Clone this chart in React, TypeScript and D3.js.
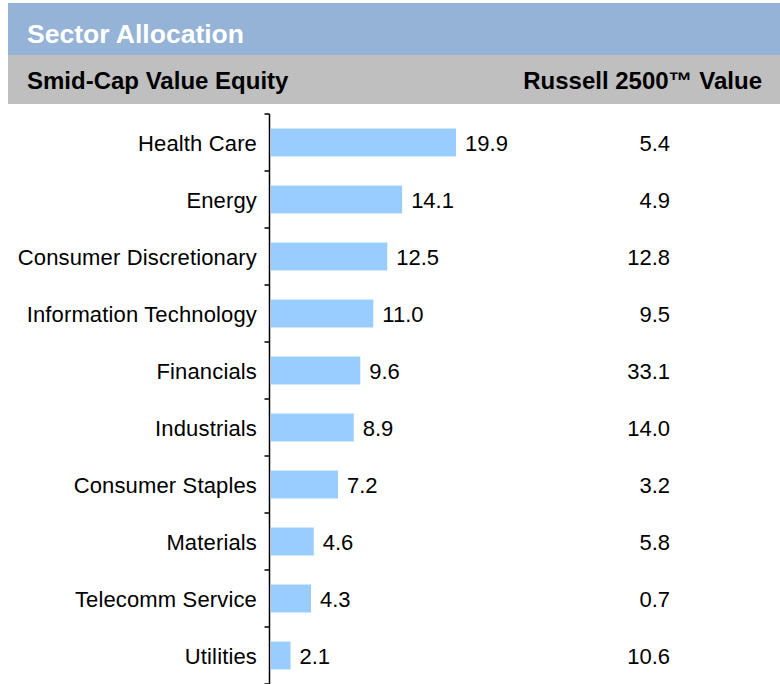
import React from "react";
import * as d3 from "d3";

const categories = [
  "Health Care",
  "Energy",
  "Consumer Discretionary",
  "Information Technology",
  "Financials",
  "Industrials",
  "Consumer Staples",
  "Materials",
  "Telecomm Service",
  "Utilities",
];
const portfolioValues = [19.9, 14.1, 12.5, 11.0, 9.6, 8.9, 7.2, 4.6, 4.3, 2.1];
const benchmarkValues = [5.4, 4.9, 12.8, 9.5, 33.1, 14.0, 3.2, 5.8, 0.7, 10.6];
const title = "Sector Allocation";
const leftHeader = "Smid-Cap Value Equity";
const rightHeader = "Russell 2500\u2122 Value";

const W = 780;
const H = 684;
const FONT = "'Liberation Sans', Arial, Helvetica, sans-serif";

export default function App() {
  const y = d3.scaleBand<string>().domain(categories).range([114, 684]).paddingInner(0).paddingOuter(0);
  const x = d3.scaleLinear().domain([0, 20]).range([271, 457]);
  const bw = y.bandwidth();
  const barH = bw * 0.49;
  const axisX = 269.5;
  const boundaries = categories.map((c) => y(c)!).concat([y.range()[1]]);

  return (
    <svg
      width={W}
      height={H}
      style={{ position: "absolute", left: 0, top: 0, display: "block", background: "#fff" }}
      fontFamily={FONT}
    >
      <rect x={8} y={3} width={W - 8} height={52} fill="#95B3D7" />
      <text x={27} y={43} fill="#fff" fontSize={26.5} fontWeight="bold">
        {title}
      </text>
      <rect x={8} y={55} width={W - 8} height={49} fill="#BFBFBF" />
      <text x={27} y={89} fill="#000" fontSize={24} fontWeight="bold">
        {leftHeader}
      </text>
      <text x={762} y={89} fill="#000" fontSize={24} fontWeight="bold" textAnchor="end">
        {rightHeader}
      </text>

      {categories.map((c, i) => {
        const cy = y(c)! + bw / 2;
        return (
          <g key={c}>
            <rect x={x(0)} y={cy - barH / 2} width={x(portfolioValues[i]) - x(0)} height={barH} fill="#99CCFF" />
            <text x={257} y={cy + 8} textAnchor="end" fontSize={22} fill="#000" letterSpacing={0.15}>
              {c}
            </text>
            <text x={x(portfolioValues[i]) + 9} y={cy + 8} fontSize={22} fill="#000">
              {portfolioValues[i].toFixed(1)}
            </text>
            <text x={670} y={cy + 8} textAnchor="end" fontSize={22} fill="#000">
              {benchmarkValues[i].toFixed(1)}
            </text>
          </g>
        );
      })}

      <line x1={axisX} x2={axisX} y1={boundaries[0]} y2={H} stroke="#000" strokeWidth={1.5} />
      {boundaries.map((b, i) => (
        <line key={i} x1={axisX - 5} x2={axisX} y1={b} y2={b} stroke="#000" strokeWidth={1.5} />
      ))}
    </svg>
  );
}
